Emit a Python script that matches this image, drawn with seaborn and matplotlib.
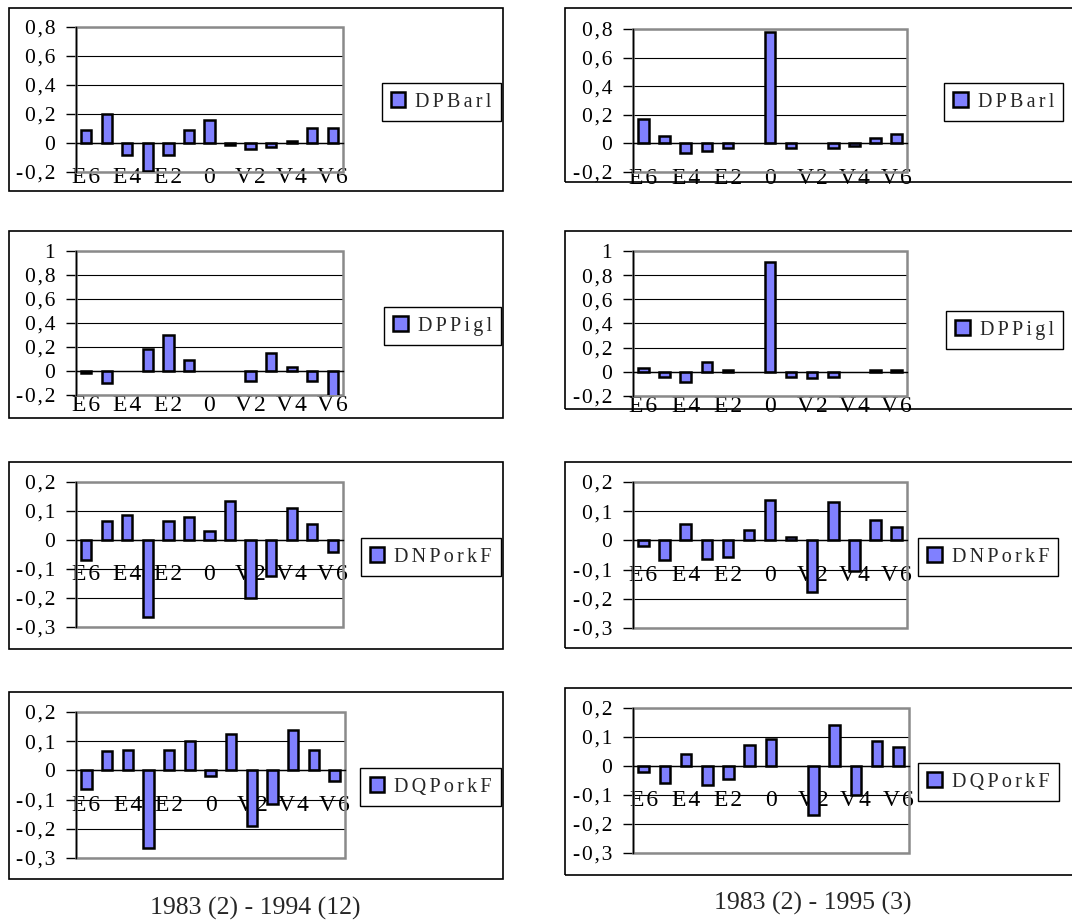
import numpy as np
import pandas as pd
import matplotlib
matplotlib.use("Agg")
import matplotlib.pyplot as plt
from matplotlib.patches import Rectangle, Patch
from matplotlib.ticker import FixedLocator
import seaborn as sns

# ---- data -------------------------------------------------------------
lags = ["E6", "E5", "E4", "E3", "E2", "E1", "0", "V1", "V2", "V3", "V4", "V5", "V6"]
shown_lags = ["E6", "E4", "E2", "0", "V2", "V4", "V6"]

dpbarl_94 = [0.09, 0.20, -0.08, -0.19, -0.08, 0.09, 0.16, -0.015, -0.04, -0.03, 0.015, 0.105, 0.105]
dpbarl_95 = [0.17, 0.055, -0.07, -0.055, -0.03, np.nan, 0.78, -0.03, np.nan, -0.03, -0.015, 0.04, 0.065]
dppigl_94 = [-0.02, -0.10, np.nan, 0.185, 0.30, 0.095, np.nan, np.nan, -0.085, 0.15, 0.03, -0.085, -0.21]
dppigl_95 = [0.03, -0.04, -0.085, 0.08, 0.015, np.nan, 0.91, -0.04, -0.055, -0.04, np.nan, 0.012, 0.012]
dnporkf_94 = [-0.07, 0.065, 0.085, -0.265, 0.065, 0.08, 0.03, 0.135, -0.20, -0.125, 0.11, 0.055, -0.04]
dnporkf_95 = [-0.02, -0.068, 0.055, -0.062, -0.058, 0.035, 0.14, 0.013, -0.175, 0.133, -0.105, 0.07, 0.047]
dqporkf_94 = [-0.062, 0.065, 0.07, -0.267, 0.07, 0.10, -0.02, 0.125, -0.19, -0.115, 0.14, 0.07, -0.035]
dqporkf_95 = [-0.02, -0.06, 0.042, -0.067, -0.045, 0.072, 0.092, np.nan, -0.17, 0.14, -0.10, 0.086, 0.065]

series_names = ["DPBarl", "DPPigl", "DNPorkF", "DQPorkF"]
period_labels = ["1983 (2) - 1994 (12)", "1983 (2) - 1995 (3)"]

ticks_a = [-0.2, 0.0, 0.2, 0.4, 0.6, 0.8]
ticks_b = [-0.2, 0.0, 0.2, 0.4, 0.6, 0.8, 1.0]
ticks_c = [-0.3, -0.2, -0.1, 0.0, 0.1, 0.2]

# ---- style ------------------------------------------------------------
sns.set_style("white")
SERIF = ["Liberation Serif", "DejaVu Serif"]
plt.rcParams["font.family"] = SERIF

BAR = "#8080FF"
FRAME_GRAY = "#8a8a8a"
W, H = 1072, 923
HAIR = "\u200a"


def spaced(s, sep=HAIR):
    return sep.join(s)


def ytick_text(v):
    if abs(v) < 1e-9:
        return "0"
    if abs(v - round(v)) < 1e-9:
        return str(int(round(v)))
    return spaced(f"{v:.1f}".replace(".", ","))


def fig_rect(x0, y0, x1, y1):
    return [x0 / W, 1 - y1 / H, (x1 - x0) / W, (y1 - y0) / H]


fig = plt.figure(figsize=(W / 100, H / 100), dpi=100)
fig.patch.set_facecolor("white")

# (values, name, ticks, axes box, outer frame, legend anchor x, legend centre y, legend side)
panels = [
    (dpbarl_94, series_names[0], ticks_a, (76, 27, 343, 172), (9, 8, 503, 191), 501, 102, "right"),
    (dpbarl_95, series_names[0], ticks_a, (633, 29, 907, 172), (565, 8, 1090, 182), 944, 102, "left"),
    (dppigl_94, series_names[1], ticks_b, (76, 251, 343, 395), (9, 231, 503, 418), 501, 326, "right"),
    (dppigl_95, series_names[1], ticks_b, (633, 251, 907, 396), (565, 231, 1090, 409), 946, 330, "left"),
    (dnporkf_94, series_names[2], ticks_c, (76, 482, 343, 627), (9, 462, 503, 649), 501, 557, "right"),
    (dnporkf_95, series_names[2], ticks_c, (633, 482, 907, 628), (565, 462, 1090, 648), 918, 557, "left"),
    (dqporkf_94, series_names[3], ticks_c, (76, 712, 345, 858), (9, 692, 503, 879), 501, 787, "right"),
    (dqporkf_95, series_names[3], ticks_c, (633, 708, 909, 853), (565, 688, 1090, 875), 918, 782, "left"),
]

for vals, name, yt, abox, fbox, lx, ly, side in panels:
    # outer chart frame
    fx0, fy0, fx1, fy1 = fbox
    fig.patches.append(Rectangle((fx0 / W, 1 - fy1 / H), (fx1 - fx0) / W, (fy1 - fy0) / H,
                                 transform=fig.transFigure, fill=False,
                                 edgecolor="black", linewidth=1.2, zorder=0))

    ax = fig.add_axes(fig_rect(*abox))
    df = pd.DataFrame({"lag": lags, "value": vals})
    sns.barplot(data=df, x="lag", y="value", order=lags, color=BAR, saturation=1,
                edgecolor="black", linewidth=1.8, width=0.5, errorbar=None, ax=ax)
    ax.set_xlabel("")
    ax.set_ylabel("")
    ax.set_xlim(-0.5, len(lags) - 0.5)
    ax.set_ylim(yt[0], yt[-1])

    # gridlines and grey plot-area border
    ax.set_axisbelow(True)
    ax.set_yticks(yt)
    ax.set_yticklabels([ytick_text(v) for v in yt])
    ax.yaxis.grid(True, color="black", linewidth=0.8)
    ax.xaxis.grid(False)
    ax.add_patch(Rectangle((0, 0), 1, 1, transform=ax.transAxes, fill=False,
                           edgecolor=FRAME_GRAY, linewidth=1.8, zorder=0.8, clip_on=False))

    for s in ("top", "right"):
        ax.spines[s].set_visible(False)
    ax.spines["left"].set_color("black")
    ax.spines["left"].set_linewidth(1.0)
    ax.spines["bottom"].set_position(("data", 0))
    ax.spines["bottom"].set_color("black")
    ax.spines["bottom"].set_linewidth(1.0)

    # category labels every other lag, boundary ticks crossing the zero line
    ax.set_xticks([lags.index(l) for l in shown_lags])
    ax.set_xticklabels([spaced(l) for l in shown_lags])
    ax.xaxis.set_minor_locator(FixedLocator(np.arange(-0.5, len(lags), 1.0)))
    ax.tick_params(axis="x", which="major", length=0, pad=17.5, labelsize=17, colors="black")
    ax.tick_params(axis="x", which="minor", direction="inout", length=12, width=1, color="black")
    ax.tick_params(axis="y", which="major", direction="out", length=7, width=1,
                   pad=8, labelsize=15.5, colors="black", left=True)

    handle = Patch(facecolor=BAR, edgecolor="black", linewidth=1.8)
    leg = ax.legend([handle], [spaced(name, HAIR * 2)], loc=f"center {side}",
                    bbox_to_anchor=(lx / W, 1 - ly / H), bbox_transform=fig.transFigure,
                    frameon=True, fancybox=False, framealpha=1, edgecolor="black",
                    borderaxespad=0, borderpad=0.46, handlelength=0.72, handleheight=0.72,
                    handletextpad=0.5, fontsize=14.5)
    leg.get_frame().set_linewidth(1.0)

fig.text(255 / W, 1 - 908 / H, period_labels[0], ha="center", va="center", fontsize=18.5)
fig.text(813 / W, 1 - 903 / H, period_labels[1], ha="center", va="center", fontsize=18.5)

fig.savefig("out.png", dpi=100, facecolor="white")
